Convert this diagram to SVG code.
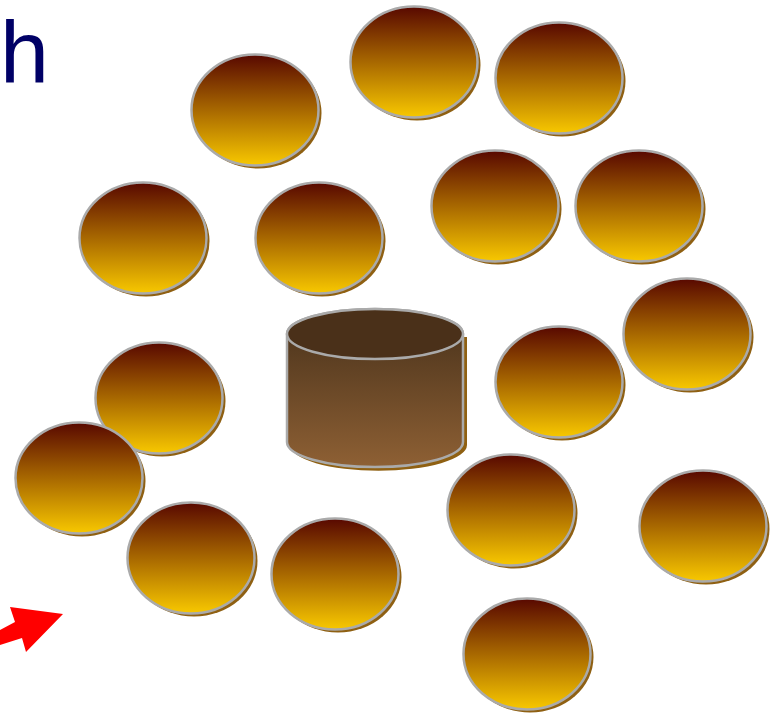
<svg xmlns="http://www.w3.org/2000/svg" width="778" height="713" viewBox="0 0 778 713">
<defs>
<linearGradient id="g" x1="0" y1="0" x2="0" y2="1">
<stop offset="0" stop-color="#580800"/>
<stop offset="1" stop-color="#f8c800"/>
</linearGradient>
<linearGradient id="cyl" x1="0" y1="0" x2="0" y2="1">
<stop offset="0" stop-color="#46301a"/>
<stop offset="1" stop-color="#8e6034"/>
</linearGradient>
<ellipse id="disc" cx="0" cy="0" rx="63.5" ry="55.5"/>
</defs>
<style>
.sh{fill:#8f6012}
.dk{fill:url(#g);stroke:#aaaaaa;stroke-width:2.5}
</style>
<rect width="778" height="713" fill="#ffffff"/>
<text x="0" y="82" font-family="Liberation Sans, Arial, sans-serif" font-size="88" fill="#000066">h</text>
<g id="cylinder">
<path d="M290,337 L290,445 A86,25 0 0 0 467,445 L467,337 Z" class="sh"/>
<path d="M287,334 L287,442 A88,25 0 0 0 463,442 L463,334 A88,25 0 0 0 287,334 Z" fill="url(#cyl)" stroke="#aaaaaa" stroke-width="2.5"/>
<ellipse cx="375" cy="334" rx="88" ry="25" fill="#4a3019" stroke="#aaaaaa" stroke-width="2.5"/>
</g>
<g id="n1" transform="translate(255,110)"><use href="#disc" class="sh" x="3" y="3"/><use href="#disc" class="dk"/></g>
<g id="n2" transform="translate(414,62)"><use href="#disc" class="sh" x="3" y="3"/><use href="#disc" class="dk"/></g>
<g id="n3" transform="translate(559,78)"><use href="#disc" class="sh" x="3" y="3"/><use href="#disc" class="dk"/></g>
<g id="n4" transform="translate(143,238)"><use href="#disc" class="sh" x="3" y="3"/><use href="#disc" class="dk"/></g>
<g id="n5" transform="translate(319,238)"><use href="#disc" class="sh" x="3" y="3"/><use href="#disc" class="dk"/></g>
<g id="n6" transform="translate(495,206)"><use href="#disc" class="sh" x="3" y="3"/><use href="#disc" class="dk"/></g>
<g id="n7" transform="translate(639,206)"><use href="#disc" class="sh" x="3" y="3"/><use href="#disc" class="dk"/></g>
<g id="n8" transform="translate(687,334)"><use href="#disc" class="sh" x="3" y="3"/><use href="#disc" class="dk"/></g>
<g id="n9" transform="translate(559,382)"><use href="#disc" class="sh" x="3" y="3"/><use href="#disc" class="dk"/></g>
<g id="n10" transform="translate(159,398)"><use href="#disc" class="sh" x="3" y="3"/><use href="#disc" class="dk"/></g>
<g id="n11" transform="translate(79,478)"><use href="#disc" class="sh" x="3" y="3"/><use href="#disc" class="dk"/></g>
<g id="n12" transform="translate(511,510)"><use href="#disc" class="sh" x="3" y="3"/><use href="#disc" class="dk"/></g>
<g id="n13" transform="translate(703,526)"><use href="#disc" class="sh" x="3" y="3"/><use href="#disc" class="dk"/></g>
<g id="n14" transform="translate(191,558)"><use href="#disc" class="sh" x="3" y="3"/><use href="#disc" class="dk"/></g>
<g id="n15" transform="translate(335,574)"><use href="#disc" class="sh" x="3" y="3"/><use href="#disc" class="dk"/></g>
<g id="n16" transform="translate(527,654)"><use href="#disc" class="sh" x="3" y="3"/><use href="#disc" class="dk"/></g>
<g id="connectors">
<polygon points="0,630 15,622 10,607 63,614 26,652 22,638 0,645" fill="#ff0000"/>
</g>
</svg>
